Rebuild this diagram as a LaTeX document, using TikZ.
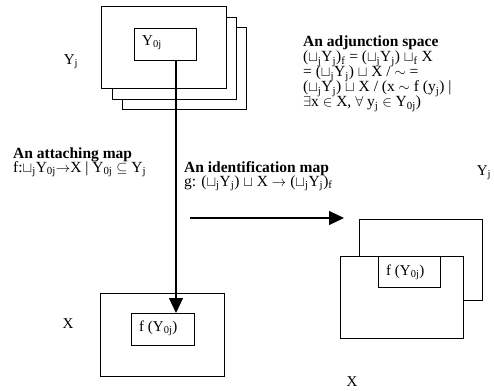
\documentclass[tikz,border=0pt]{standalone}
\usepackage{fontspec}
\setmainfont{Liberation Serif}
\usetikzlibrary{arrows.meta}
\newcommand{\su}[1]{\textsubscript{#1}}
\newcommand{\djsq}{$\sqcup$}
\tikzset{
  box/.style={draw, line width=1pt, fill=white},
  lbl/.style={inner sep=0pt, font=\fontsize{15}{15}\selectfont},
  txt/.style={inner sep=0pt, anchor=base west, font=\fontsize{15.5}{15}\selectfont},
  arr/.style={line width=1.2pt, -{Triangle[width=14pt,length=15pt]}}
}
\begin{document}
\begin{tikzpicture}[x=1pt,y=-1pt]
\useasboundingbox (0,0) rectangle (494,390);
% top stack
\draw[box] (122,28) rectangle (246,110);
\draw[box] (112,18) rectangle (236,100);
\draw[box] (101,7) rectangle (226,89);
\node[box, minimum width=62pt, minimum height=32pt, anchor=north west, inner sep=0pt] (y0) at (134,28) {};
\node[lbl, anchor=west] (y0t) at (142,43) {Y\su{0j}};
\node[lbl] (yjl) at (71,62) {Y\su{j}};
% bottom X
\draw[box] (100,293) rectangle (224,376);
\node[box, minimum width=63pt, minimum height=32pt, anchor=north west, inner sep=0pt] (fx) at (131,313) {};
\node[lbl, anchor=west] (fxt) at (139,328) {f (Y\su{0j})};
\node[lbl] (xl) at (68,324) {X};
% arrow vertical
\draw[arr] (y0.south -| 176,0) -- (fx.north -| 176,0);
% right boxes
\draw[box] (359,219) rectangle (482,300);
\draw[box] (340,256) rectangle (463,338);
\node[box, minimum width=62pt, minimum height=31pt, anchor=north west, inner sep=0pt] (fr) at (378,256) {};
\node[lbl, anchor=west] (frt) at (386,272) {f (Y\su{0j})};
\node[lbl] (yjr) at (484,173) {Y\su{j}};
\node[lbl] (xr) at (352,382) {X};
% horizontal arrow
\coordinate (hs) at (190,218);
\coordinate (he) at (344,218);
\draw[arr] (hs) -- (he);
% adjunction space
\node[txt] (adj1) at (303,47) {\textbf{An adjunction space}};
\node[txt] (adj2) at (303,62) {(\djsq\su{j}Y\su{j})\su{f} = (\djsq\su{j}Y\su{j}) \djsq\su{f} X};
\node[txt] (adj3) at (303,77) {= (\djsq\su{j}Y\su{j}) \djsq{} X / $\sim$ =};
\node[txt] (adj4) at (303,92) {(\djsq\su{j}Y\su{j}) \djsq{} X / (x $\sim$ f (y\su{j}) |};
\node[txt] (adj5) at (303,107) {$\exists$x $\in$ X, $\forall$ y\su{j} $\in$ Y\su{0j})};
% attaching map
\node[txt] (att1) at (13,158) {\textbf{An attaching map}};
\node[txt] (att2) at (13,172) {f:\djsq\su{j}Y\su{0j}$\rightarrow$X | Y\su{0j} $\subseteq$ Y\su{j}};
% identification map
\node[txt] (idm1) at (184,172) {\textbf{An identification map}};
\node[txt] (idm2) at (184,186) {g: (\djsq\su{j}Y\su{j}) \djsq{} X $\rightarrow$ (\djsq\su{j}Y\su{j})\su{f}};
\end{tikzpicture}
\end{document}
